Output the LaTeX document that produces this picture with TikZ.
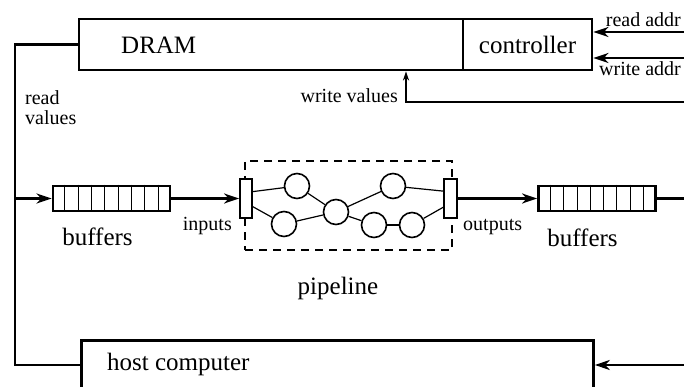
\documentclass[tikz,border=0pt]{standalone}
\usepackage{fontspec}
\setmainfont{Liberation Serif}
\usetikzlibrary{arrows.meta,calc}
\tikzset{
  big/.style={font=\fontsize{25}{28}\selectfont, inner sep=0pt},
  small/.style={font=\fontsize{20}{20}\selectfont, inner sep=0pt},
  blk/.style={draw, line width=2.8pt, inner sep=0pt},
  wire/.style={line width=2.2pt},
  arrowed/.style={-{Stealth[length=15pt,width=10pt,inset=4.5pt]}},
  smallarrow/.style={-{Stealth[length=9pt,width=6pt,inset=2.5pt]}},
  bufbox/.style={draw, line width=2.8pt, minimum width=117pt, minimum height=25pt, inner sep=0pt},
  stage/.style={draw, circle, line width=1.6pt, minimum size=25pt, inner sep=0pt},
  port/.style={draw, fill=white, line width=1.8pt, minimum height=39pt, inner sep=0pt},
  link/.style={line width=1.2pt},
}
\begin{document}
\begin{tikzpicture}[x=1pt,y=-1pt]
\useasboundingbox (0,0) rectangle (684,387);

% memory block: DRAM with its controller
\node[blk, minimum width=384pt, minimum height=51pt] (dram) at (271,44.5) {};
\node[blk, big, minimum width=129pt, minimum height=51pt] (ctrl) at (527.5,44.5) {controller};
\node[big, anchor=base west] (dramtxt) at (121,54) {DRAM};

% address inputs to the controller
\coordinate (raIn) at (684,32);
\coordinate (waIn) at (684,58);
\draw[wire, arrowed] (raIn) -- (raIn -| ctrl.east);
\draw[wire, arrowed] (waIn) -- (waIn -| ctrl.east);
\node[small, anchor=base east] (ratxt) at (681,27) {read addr};
\node[small, anchor=base east] (watxt) at (681,76) {write addr};

% write values into DRAM
\coordinate (wvIn) at (684,102);
\coordinate (wvUp) at (406,102);
\draw[line width=1.7pt, smallarrow] (wvIn) -- (wvUp) -- (wvUp |- dram.south);
\node[small, anchor=base east] (wvtxt) at (398,103) {write values};

% host computer (runs off the bottom edge)
\node[blk, minimum width=512pt, minimum height=60pt, anchor=north west] (host) at (80,339) {};
\node[big, anchor=base west] (hosttxt) at (107,370) {host computer};
\coordinate (hostIn) at (684,365);
\draw[wire, arrowed] (hostIn) -- (hostIn -| host.east);

% read-values bus on the left
\coordinate (lt) at (15,44.5);
\coordinate (lb) at (15,365);
\draw[wire] (dram.west) -- (lt) -- (lb) -- (lb -| host.west);
\node[small, align=left, anchor=north west] (rvtxt) at (25,90) {read\\values};

% pipeline region
\node[draw, line width=2pt, dash pattern=on 8pt off 6pt, minimum width=207pt, minimum height=89pt, inner sep=0pt] (pipe) at (348.5,205.5) {};
\node[port, minimum width=12pt] (inp) at (246,198.5) {};
\node[port, minimum width=13pt] (outp) at (450.5,198.5) {};
\node[stage] (c1) at (297,186) {};
\node[stage] (c2) at (284,224) {};
\node[stage] (c3) at (336,212) {};
\node[stage] (c4) at (393,186) {};
\node[stage] (c5) at (374,225) {};
\node[stage] (c6) at (412,225) {};
\draw[link] (inp.45) -- (c1);
\draw[link] (inp.-50) -- (c2);
\draw[link] (c1) -- (c3);
\draw[link] (c2) -- (c3);
\draw[link] (c3) -- (c4);
\draw[link] (c3) -- (c5);
\draw[link] (c5) -- (c6);
\draw[link] (c4) -- (outp.135);
\draw[link] (c6) -- (outp.-130);
\node[small, anchor=base east] (intxt) at (232,230) {inputs};
\node[small, anchor=base west] (outtxt) at (463,230) {outputs};
\node[big, anchor=base] (pipetxt) at (338,294) {pipeline};

% input and output buffers
\node[bufbox] (bufL) at (111.5,198.5) {};
\node[bufbox] (bufR) at (597,198.5) {};
\foreach \b in {bufL,bufR}
  \foreach \i in {1,...,8}
    \draw[line width=1pt] ($(\b.north west)!\i/9!(\b.north east)$) -- ($(\b.south west)!\i/9!(\b.south east)$);
\node[big, anchor=base] (bufLtxt) at (97.5,245) {buffers};
\node[big, anchor=base] (bufRtxt) at (582.5,246) {buffers};

% data flow through the buffers and pipeline
\coordinate (rOut) at (684,198.5);
\draw[wire, arrowed] (lt |- bufL.west) -- (bufL.west);
\draw[wire, arrowed] (bufL.east) -- (inp.west);
\draw[wire, arrowed] (outp.east) -- (bufR.west);
\draw[wire] (bufR.east) -- (rOut);
\end{tikzpicture}
\end{document}
